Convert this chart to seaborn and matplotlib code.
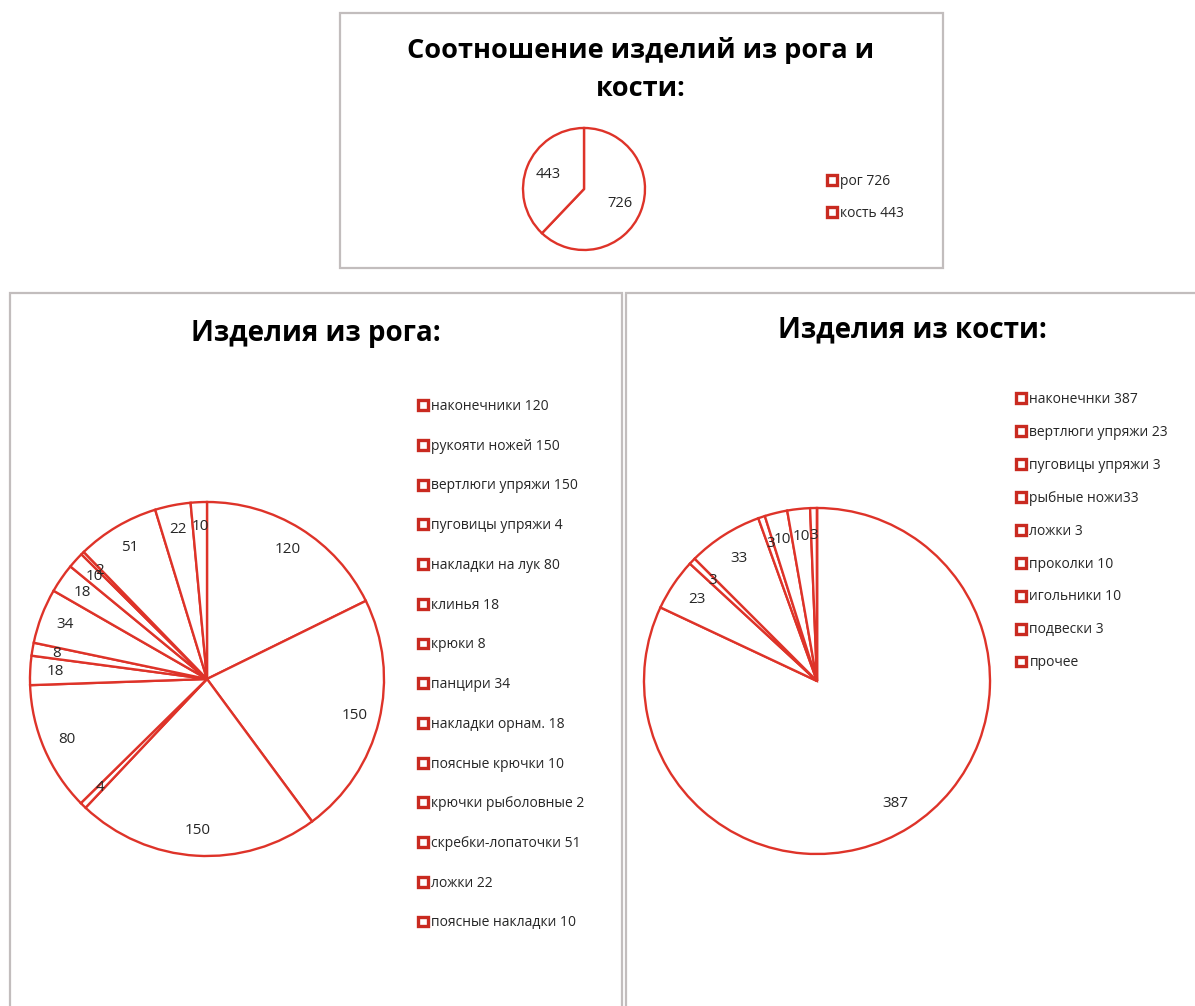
import matplotlib
matplotlib.use("Agg")
import matplotlib.pyplot as plt
import seaborn as sns
from matplotlib.patches import Rectangle

# ---------------- data ----------------
total_names = ["рог", "кость"]
total_values = [726, 443]
total_legend = ["рог 726", "кость 443"]

horn_names = ["наконечники", "рукояти ножей", "вертлюги упряжи", "пуговицы упряжи",
              "накладки на лук", "клинья", "крюки", "панцири", "накладки орнам.",
              "поясные крючки", "крючки рыболовные", "скребки-лопаточки", "ложки",
              "поясные накладки"]
horn_values = [120, 150, 150, 4, 80, 18, 8, 34, 18, 10, 2, 51, 22, 10]
horn_legend = ["наконечники 120", "рукояти ножей 150", "вертлюги упряжи 150",
               "пуговицы упряжи 4", "накладки на лук 80", "клинья 18", "крюки 8",
               "панцири 34", "накладки орнам. 18", "поясные крючки 10",
               "крючки рыболовные 2", "скребки-лопаточки 51", "ложки 22",
               "поясные накладки 10"]

bone_names = ["наконечнки", "вертлюги упряжи", "пуговицы упряжи", "рыбные ножи",
              "ложки", "проколки", "игольники", "подвески", "прочее"]
bone_values = [387, 23, 3, 33, 3, 10, 10, 3, 0]
bone_legend = ["наконечнки 387", "вертлюги упряжи 23", "пуговицы упряжи 3",
               "рыбные ножи33", "ложки 3", "проколки 10", "игольники 10",
               "подвески 3", "прочее"]

# ---------------- style ----------------
sns.set_theme(style="white")
plt.rcParams["font.family"] = ["Open Sans", "DejaVu Sans"]

RED = "#de3329"
LEG_RED = "#c92a20"
BORDER = "#c2bdbd"
TXT = "#262626"

W, H = 1195, 1006
fig = plt.figure(figsize=(W / 100, H / 100), dpi=100)
fig.patch.set_facecolor("white")


def fx(x):
    return x / W


def fy(y):
    return 1 - y / H


def panel(x0, y0, x1, y1):
    fig.add_artist(Rectangle((fx(x0), fy(y1)), fx(x1) - fx(x0), fy(y0) - fy(y1),
                             transform=fig.transFigure, fill=False,
                             edgecolor=BORDER, linewidth=1.6, zorder=0))


def pie_axes(cx, cy, r, pad=1.04):
    s = 2 * r * pad
    ax = fig.add_axes([fx(cx - r * pad), fy(cy + r * pad), s / W, s / H])
    return ax, pad


def draw_pie(ax, pad, values, dist, fs):
    tot = sum(values)
    wedges, _, _ = ax.pie(
        values, startangle=90, counterclock=False,
        autopct=lambda p: "" if p <= 0 else f"{round(p * tot / 100)}",
        pctdistance=dist,
        wedgeprops=dict(facecolor="white", edgecolor=RED, linewidth=1.7),
        textprops=dict(fontsize=fs, color=TXT))
    ax.set_xlim(-pad, pad)
    ax.set_ylim(-pad, pad)
    ax.set_aspect("equal")
    ax.axis("off")
    return wedges


def legend(handles, labels, x, y, spacing, fs=10):
    leg = fig.legend(handles, labels, loc="upper left",
                     bbox_to_anchor=(fx(x), fy(y)), frameon=False, fontsize=fs,
                     handlelength=0.72, handleheight=0.72, handletextpad=0.25,
                     labelspacing=spacing, borderpad=0, borderaxespad=0)
    for h in leg.legend_handles:
        h.set_linewidth(2.4)
        h.set_edgecolor(LEG_RED)
    for t in leg.get_texts():
        t.set_color(TXT)
    return leg


# ---------------- panels ----------------
panel(340, 13, 943, 268)
panel(10, 293, 622, 1030)
panel(626, 293, 1220, 1030)

# ---------------- top pie ----------------
fig.text(fx(641), fy(50), "Соотношение изделий из рога и", ha="center", va="center",
         fontsize=19.5, fontweight="bold", color="black")
fig.text(fx(641), fy(89), "кости:", ha="center", va="center",
         fontsize=19.5, fontweight="bold", color="black")
ax0, p0 = pie_axes(584, 189, 61)
w0 = draw_pie(ax0, p0, total_values, 0.63, 10.5)
legend(w0, total_legend, 827, 174, 1.22)

# ---------------- horn pie ----------------
fig.text(fx(316), fy(333), "Изделия из рога:", ha="center", va="center",
         fontsize=20, fontweight="bold", color="black")
ax1, p1 = pie_axes(207, 679, 177)
w1 = draw_pie(ax1, p1, horn_values, 0.86, 11)
legend(w1, horn_legend, 418, 399, 1.78)

# ---------------- bone pie ----------------
fig.text(fx(912), fy(330), "Изделия из кости:", ha="center", va="center",
         fontsize=20, fontweight="bold", color="black")
ax2, p2 = pie_axes(817, 681, 173)
w2 = draw_pie(ax2, p2, bone_values, 0.84, 11)
legend(w2, bone_legend, 1016, 392, 1.29)

fig.savefig("out.png", dpi=100, facecolor="white")
